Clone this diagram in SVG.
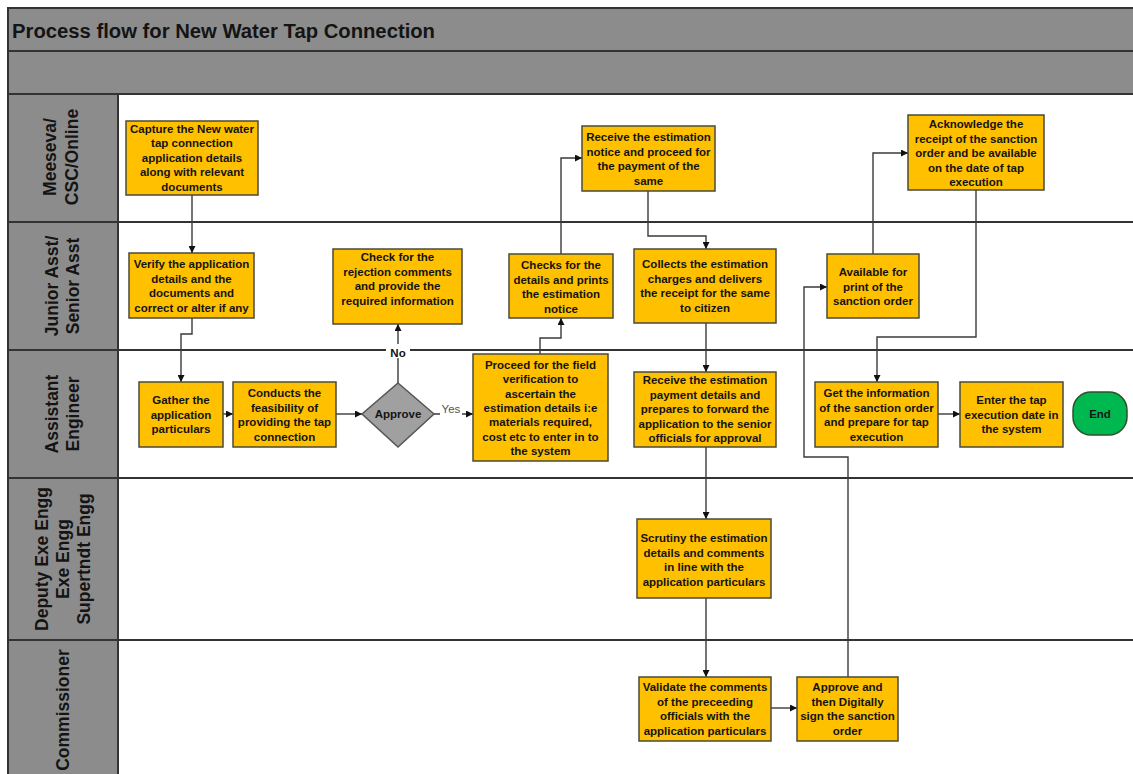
<svg xmlns="http://www.w3.org/2000/svg" width="1133" height="774" viewBox="0 0 1133 774">
<defs>
<style>
.band{fill:#8c8c8c;stroke:#333;stroke-width:2}
.hdr{fill:#8c8c8c;stroke:#333;stroke-width:2}
.sep{stroke:#333;stroke-width:2;fill:none}
.box{fill:#ffc000;stroke:#4a4a3a;stroke-width:1.5}
.t{font-family:"Liberation Sans",Arial,sans-serif;font-weight:bold;font-size:11.5px;text-anchor:middle;fill:#141414}
.ln{font-family:"Liberation Sans",Arial,sans-serif;font-weight:bold;font-size:17.5px;text-anchor:middle;fill:#141414}
.title{font-family:"Liberation Sans",Arial,sans-serif;font-weight:bold;font-size:20px;fill:#141414}
.c{fill:none;stroke:#3a3a3a;stroke-width:1.4}
.lbl{font-family:"Liberation Sans",Arial,sans-serif;font-size:11.5px;text-anchor:middle}
</style>
<marker id="ah" viewBox="0 0 10 10" refX="10" refY="5" markerWidth="7" markerHeight="7" markerUnits="userSpaceOnUse" orient="auto">
<path d="M0,0 L10,5 L0,10 Z" fill="#111"/>
</marker>
</defs>
<rect x="0" y="0" width="1133" height="774" fill="#fff"/>

<g id="frame">
<rect class="band" x="8" y="8" width="1140" height="43"/>
<text class="title" x="12" y="37.5" textLength="423" lengthAdjust="spacingAndGlyphs">Process flow for New Water Tap Connection</text>
<rect class="band" x="8" y="51" width="1140" height="43"/>
<rect class="hdr" x="8" y="94" width="110" height="690"/>
<line class="sep" x1="8" y1="222" x2="1140" y2="222"/>
<line class="sep" x1="8" y1="350" x2="1140" y2="350"/>
<line class="sep" x1="8" y1="478" x2="1140" y2="478"/>
<line class="sep" x1="8" y1="640" x2="1140" y2="640"/>
</g>

<g id="lane-labels">
<text class="ln" transform="translate(56,157) rotate(-90)">Meeseva/</text>
<text class="ln" transform="translate(78,157) rotate(-90)">CSC/Online</text>
<text class="ln" transform="translate(58,286) rotate(-90)">Junior Asst/</text>
<text class="ln" transform="translate(79,286) rotate(-90)">Senior Asst</text>
<text class="ln" transform="translate(58,414) rotate(-90)">Assistant</text>
<text class="ln" transform="translate(79,414) rotate(-90)">Engineer</text>
<text class="ln" transform="translate(48,559) rotate(-90)">Deputy Exe Engg</text>
<text class="ln" transform="translate(69,559) rotate(-90)">Exe Engg</text>
<text class="ln" transform="translate(90,559) rotate(-90)">Supertndt Engg</text>
<text class="ln" transform="translate(69,710) rotate(-90)">Commissioner</text>
</g>

<g id="connectors">
<path class="c" d="M192,195 V253" marker-end="url(#ah)"/>
<path class="c" d="M192,318 V334 H181 V382" marker-end="url(#ah)"/>
<path class="c" d="M223,414 H233" marker-end="url(#ah)"/>
<path class="c" d="M336,414 H362" marker-end="url(#ah)"/>
<path class="c" d="M398,383 V324" marker-end="url(#ah)"/>
<path class="c" d="M434,414 H473" marker-end="url(#ah)"/>
<path class="c" d="M540,354 V338 H561 V318" marker-end="url(#ah)"/>
<path class="c" d="M561,254 V158 H582" marker-end="url(#ah)"/>
<path class="c" d="M648,191 V236 H706 V249" marker-end="url(#ah)"/>
<path class="c" d="M706,323 V372" marker-end="url(#ah)"/>
<path class="c" d="M706,447 V519" marker-end="url(#ah)"/>
<path class="c" d="M706,598 V677" marker-end="url(#ah)"/>
<path class="c" d="M771,708 H797" marker-end="url(#ah)"/>
<path class="c" d="M848,677 V457 H804 V287 H827" marker-end="url(#ah)"/>
<path class="c" d="M873,254 V153 H908" marker-end="url(#ah)"/>
<path class="c" d="M976,190 V337 H877 V382" marker-end="url(#ah)"/>
<path class="c" d="M938,414 H960" marker-end="url(#ah)"/>
<rect x="386" y="344" width="24" height="14" fill="#fff"/>
<text class="lbl" x="398" y="357" font-weight="bold" fill="#141414">No</text>
<rect x="440" y="406" width="22" height="14" fill="#fff"/>
<text class="lbl" x="451" y="413" fill="#555">Yes</text>
</g>

<g id="n-capture">
<rect class="box" x="126" y="121" width="132" height="74"/>
<text class="t"><tspan x="192" y="132.5">Capture the New water</tspan><tspan x="192" y="147">tap connection</tspan><tspan x="192" y="161.5">application details</tspan><tspan x="192" y="176">along with relevant</tspan><tspan x="192" y="190.5">documents</tspan></text>
</g>

<g id="n-verify">
<rect class="box" x="129" y="253" width="125" height="65"/>
<text class="t"><tspan x="191.5" y="268">Verify the application</tspan><tspan x="191.5" y="282.5">details and the</tspan><tspan x="191.5" y="297">documents and</tspan><tspan x="191.5" y="311.5">correct or alter if any</tspan></text>
</g>

<g id="n-rejection">
<rect class="box" x="333" y="249" width="129" height="75"/>
<text class="t"><tspan x="397.5" y="261">Check for the</tspan><tspan x="397.5" y="275.5">rejection comments</tspan><tspan x="397.5" y="290">and provide the</tspan><tspan x="397.5" y="304.5">required information</tspan></text>
</g>

<g id="n-gather">
<rect class="box" x="139" y="382" width="84" height="65"/>
<text class="t"><tspan x="181" y="404">Gather the</tspan><tspan x="181" y="418.5">application</tspan><tspan x="181" y="433">particulars</tspan></text>
</g>

<g id="n-conducts">
<rect class="box" x="233" y="382" width="103" height="65"/>
<text class="t"><tspan x="284.5" y="397">Conducts the</tspan><tspan x="284.5" y="411.5">feasibility of</tspan><tspan x="284.5" y="426">providing the tap</tspan><tspan x="284.5" y="440.5">connection</tspan></text>
</g>

<g id="n-approve-decision">
<polygon points="398,383 434,414 398,447 362,414" fill="#a0a0a0" stroke="#555" stroke-width="1.5"/>
<text class="t" x="398" y="418">Approve</text>
</g>

<g id="n-proceed">
<rect class="box" x="473" y="354" width="135" height="107"/>
<text class="t"><tspan x="540.5" y="369">Proceed for the field</tspan><tspan x="540.5" y="383.3">verification to</tspan><tspan x="540.5" y="397.6">ascertain the</tspan><tspan x="540.5" y="411.9">estimation details i:e</tspan><tspan x="540.5" y="426.2">materials required,</tspan><tspan x="540.5" y="440.5">cost etc to enter in to</tspan><tspan x="540.5" y="454.8">the system</tspan></text>
</g>

<g id="n-checks">
<rect class="box" x="509" y="254" width="104" height="64"/>
<text class="t"><tspan x="561" y="269">Checks for the</tspan><tspan x="561" y="283.5">details and prints</tspan><tspan x="561" y="298">the estimation</tspan><tspan x="561" y="312.5">notice</tspan></text>
</g>

<g id="n-notice">
<rect class="box" x="582" y="126" width="133" height="65"/>
<text class="t"><tspan x="648.5" y="141">Receive the estimation</tspan><tspan x="648.5" y="155.5">notice and proceed for</tspan><tspan x="648.5" y="170">the payment of the</tspan><tspan x="648.5" y="184.5">same</tspan></text>
</g>

<g id="n-collects">
<rect class="box" x="634" y="249" width="142" height="74"/>
<text class="t"><tspan x="705" y="268">Collects the estimation</tspan><tspan x="705" y="282.5">charges and delivers</tspan><tspan x="705" y="297">the receipt for the same</tspan><tspan x="705" y="311.5">to citizen</tspan></text>
</g>

<g id="n-payment">
<rect class="box" x="634" y="372" width="142" height="75"/>
<text class="t"><tspan x="705" y="384">Receive the estimation</tspan><tspan x="705" y="398.5">payment details and</tspan><tspan x="705" y="413">prepares to forward the</tspan><tspan x="705" y="427.5">application to the senior</tspan><tspan x="705" y="442">officials for approval</tspan></text>
</g>

<g id="n-scrutiny">
<rect class="box" x="637" y="519" width="134" height="79"/>
<text class="t"><tspan x="704" y="542">Scrutiny the estimation</tspan><tspan x="704" y="556.5">details and comments</tspan><tspan x="704" y="571">in line with the</tspan><tspan x="704" y="585.5">application particulars</tspan></text>
</g>

<g id="n-validate">
<rect class="box" x="639" y="677" width="132" height="64"/>
<text class="t"><tspan x="705" y="691">Validate the comments</tspan><tspan x="705" y="705.5">of the preceeding</tspan><tspan x="705" y="720">officials with the</tspan><tspan x="705" y="734.5">application particulars</tspan></text>
</g>

<g id="n-sign">
<rect class="box" x="797" y="677" width="101" height="64"/>
<text class="t"><tspan x="847.5" y="691">Approve and</tspan><tspan x="847.5" y="705.5">then Digitally</tspan><tspan x="847.5" y="720">sign the sanction</tspan><tspan x="847.5" y="734.5">order</tspan></text>
</g>

<g id="n-available">
<rect class="box" x="827" y="254" width="92" height="64"/>
<text class="t"><tspan x="873" y="276">Available for</tspan><tspan x="873" y="290.5">print of the</tspan><tspan x="873" y="305">sanction order</tspan></text>
</g>

<g id="n-acknowledge">
<rect class="box" x="908" y="115" width="136" height="75"/>
<text class="t"><tspan x="976" y="128">Acknowledge the</tspan><tspan x="976" y="142.5">receipt of the sanction</tspan><tspan x="976" y="157">order and be available</tspan><tspan x="976" y="171.5">on the date of tap</tspan><tspan x="976" y="186">execution</tspan></text>
</g>

<g id="n-getinfo">
<rect class="box" x="815" y="382" width="123" height="65"/>
<text class="t"><tspan x="876.5" y="397">Get the information</tspan><tspan x="876.5" y="411.5">of the sanction order</tspan><tspan x="876.5" y="426">and prepare for tap</tspan><tspan x="876.5" y="440.5">execution</tspan></text>
</g>

<g id="n-enter">
<rect class="box" x="960" y="382" width="103" height="65"/>
<text class="t"><tspan x="1011.5" y="404">Enter the tap</tspan><tspan x="1011.5" y="418.5">execution date in</tspan><tspan x="1011.5" y="433">the system</tspan></text>
</g>

<g id="n-end">
<rect x="1073" y="392" width="54" height="43" rx="18" ry="18" fill="#00b850" stroke="#2f4f2f" stroke-width="1.5"/>
<text class="t" x="1100" y="418">End</text>
</g>
</svg>
